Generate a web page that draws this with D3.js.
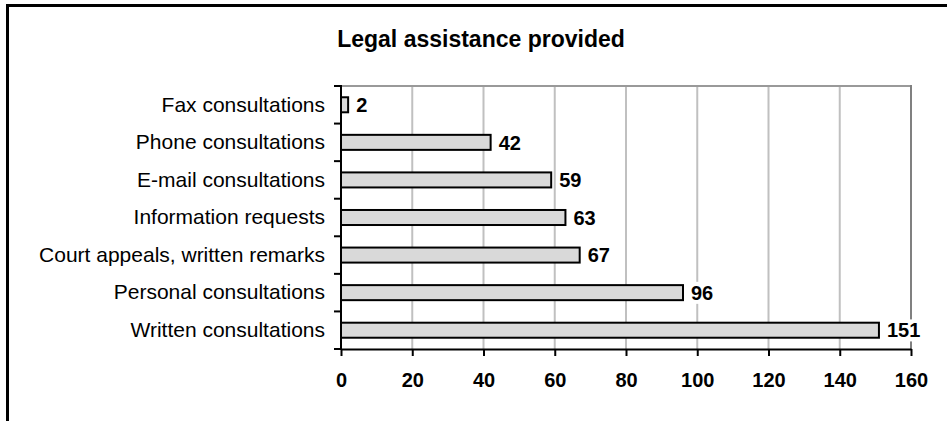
<!DOCTYPE html>
<html>
<head>
<meta charset="utf-8">
<script src="https://cdn.jsdelivr.net/npm/d3@7"></script>
<style>
  body { margin: 0; background: #fff; }
  svg { display: block; font-family: "Liberation Sans", Arial, sans-serif; }
</style>
</head>
<body>
<div id="chart"></div>
<script>
var categories = ["Fax consultations", "Phone consultations", "E-mail consultations",
    "Information requests", "Court appeals, written remarks",
    "Personal consultations", "Written consultations"];
var values = [2, 42, 59, 63, 67, 96, 151];
var xTicks = [0, 20, 40, 60, 80, 100, 120, 140, 160];
var chartTitle = "Legal assistance provided";

var width = 947,
    height = 421,
    plotLeft = 341, plotRight = 911, plotTop = 86, plotBottom = 349;

var data = categories.map(function(c, i) {
    return { name: c, value: values[i] };
});

var svg = d3.select("#chart").append("svg")
    .attr("width", width)
    .attr("height", height);

// outer frame (only top and left edges show)
svg.append("line").attr("x1", 6).attr("x2", width).attr("y1", 5.5).attr("y2", 5.5)
    .attr("stroke", "#000").attr("stroke-width", 3);
svg.append("line").attr("x1", 7.5).attr("x2", 7.5).attr("y1", 4).attr("y2", height)
    .attr("stroke", "#000").attr("stroke-width", 3);

svg.append("text")
    .attr("x", 481).attr("y", 47)
    .attr("text-anchor", "middle")
    .style("font-size", "23px").style("font-weight", "bold")
    .text(chartTitle);

var x = d3.scaleLinear().domain([0, 160]).range([plotLeft, plotRight]);
var y = d3.scaleBand().domain(categories).range([plotTop, plotBottom])
    .paddingInner(0.6).paddingOuter(0.3);
var step = y.step();

// gridlines
svg.append("g").selectAll("line")
    .data(xTicks.filter(function(d) { return d > 0 && d < 160; }))
    .enter().append("line")
    .attr("x1", function(d) { return x(d); })
    .attr("x2", function(d) { return x(d); })
    .attr("y1", plotTop).attr("y2", plotBottom)
    .attr("stroke", "#c0c0c0").attr("stroke-width", 2);

// plot border top + right
svg.append("line").attr("x1", plotLeft).attr("x2", plotRight).attr("y1", plotTop).attr("y2", plotTop)
    .attr("stroke", "#999").attr("stroke-width", 2);
svg.append("line").attr("x1", plotRight).attr("x2", plotRight).attr("y1", plotTop - 1).attr("y2", plotBottom)
    .attr("stroke", "#808080").attr("stroke-width", 2);

// bars
svg.append("g").selectAll("rect")
    .data(data)
    .enter().append("rect")
    .attr("x", x(0))
    .attr("y", function(d) { return y(d.name); })
    .attr("width", function(d) { return x(d.value) - x(0); })
    .attr("height", y.bandwidth())
    .attr("fill", "#d9d9d9")
    .attr("stroke", "#000")
    .attr("stroke-width", 2);

// value labels with white background
var lab = svg.append("g").selectAll("g")
    .data(data)
    .enter().append("g")
    .attr("transform", function(d) {
        return "translate(" + (x(d.value) + 8) + "," + (y(d.name) + y.bandwidth() / 2) + ")";
    });
lab.append("text")
    .attr("dy", "0.36em")
    .style("font-size", "20px").style("font-weight", "bold")
    .text(function(d) { return d.value; });
lab.each(function() {
    var g = d3.select(this), b = g.select("text").node().getBBox();
    g.insert("rect", "text")
        .attr("x", b.x - 1).attr("y", b.y).attr("width", b.width + 2).attr("height", b.height)
        .attr("fill", "#fff");
});

// x axis
var xAxis = svg.append("g")
    .attr("transform", "translate(0," + plotBottom + ")")
    .call(d3.axisBottom(x).tickValues(xTicks).tickSize(7).tickPadding(17).tickSizeOuter(0));
xAxis.select(".domain").attr("stroke", "#000").attr("stroke-width", 2);
xAxis.selectAll(".tick line").attr("stroke", "#000").attr("stroke-width", 2);
xAxis.selectAll("text")
    .style("font-size", "20px").style("font-weight", "bold")
    .style("font-family", "'Liberation Sans', Arial, sans-serif").attr("fill", "#000");

// y axis: labels from the band scale, ticks at band boundaries
var yAxis = svg.append("g")
    .attr("transform", "translate(" + plotLeft + ",0)")
    .call(d3.axisLeft(y).tickSize(0).tickPadding(16));
yAxis.select(".domain").remove();
yAxis.selectAll("text")
    .style("font-size", "21px")
    .style("font-family", "'Liberation Sans', Arial, sans-serif").attr("fill", "#000");
svg.append("line").attr("x1", plotLeft).attr("x2", plotLeft).attr("y1", plotTop - 1).attr("y2", plotBottom + 1)
    .attr("stroke", "#000").attr("stroke-width", 2);
var bounds = categories.map(function(c) { return y(c) - step * 0.3; }).concat([plotBottom]);
svg.append("g").selectAll("line")
    .data(bounds)
    .enter().append("line")
    .attr("x1", plotLeft - 7).attr("x2", plotLeft)
    .attr("y1", function(d) { return d; }).attr("y2", function(d) { return d; })
    .attr("stroke", "#000").attr("stroke-width", 2);
</script>
</body>
</html>
